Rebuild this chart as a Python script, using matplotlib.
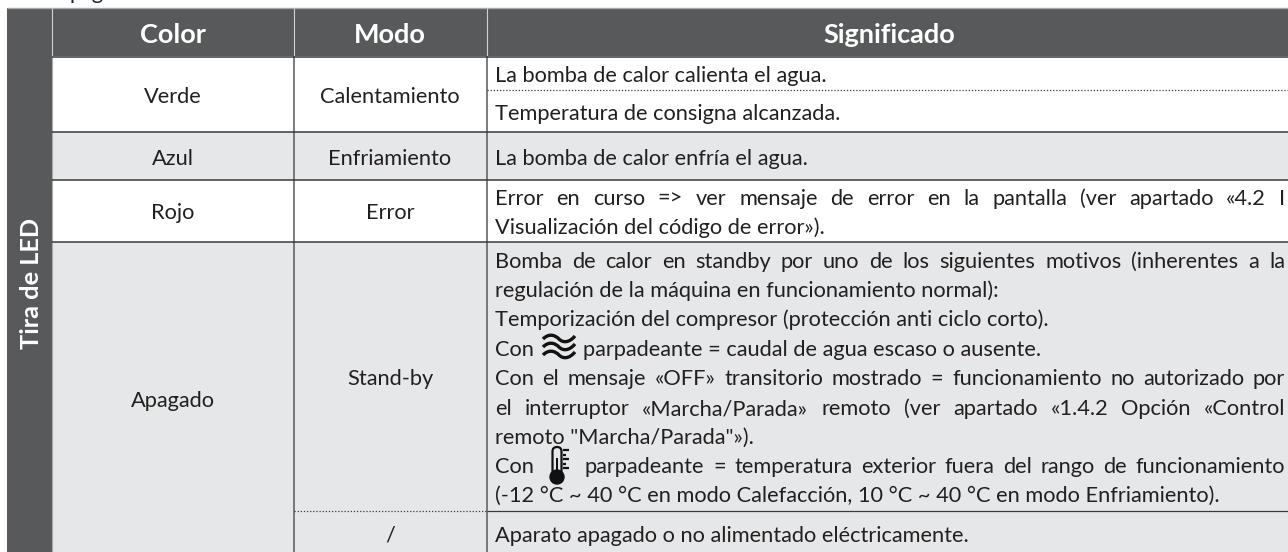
import matplotlib
matplotlib.use('Agg')
import matplotlib.pyplot as plt
from matplotlib.patches import Rectangle, PathPatch, Circle, FancyBboxPatch
from matplotlib.path import Path

plt.rcParams['font.family'] = ['Lato', 'DejaVu Sans']

W, H = 1288, 552
DARK = '#58595b'
GREY = '#e6e7e8'
INK = '#231f20'
BODY_SIZE = 15.7
RIGHT = 1285

side_label = 'Tira de LED'
page_word = 'página'
headers = ['Color', 'Modo', 'Significado']
colors = ['Verde', 'Azul', 'Rojo', 'Apagado']
modes = ['Calentamiento', 'Enfriamiento', 'Error', 'Stand-by', '/']
verde_lines = ['La bomba de calor calienta el agua.', 'Temperatura de consigna alcanzada.']
azul_lines = ['La bomba de calor enfría el agua.']
rojo_lines = ['Error en curso => ver mensaje de error en la pantalla (ver apartado «4.2 I',
              'Visualización del código de error»).']
apagado_lines = ['Bomba de calor en standby por uno de los siguientes motivos (inherentes a la',
                 'regulación de la máquina en funcionamiento normal):',
                 'Temporización del compresor (protección anti ciclo corto).',
                 'parpadeante = caudal de agua escaso o ausente.',
                 'Con el mensaje «OFF» transitorio mostrado = funcionamiento no autorizado por',
                 'el interruptor «Marcha/Parada» remoto (ver apartado «1.4.2 Opción «Control',
                 'remoto "Marcha/Parada"»).',
                 'parpadeante = temperatura exterior fuera del rango de funcionamiento',
                 '(-12 °C ~ 40 °C en modo Calefacción, 10 °C ~ 40 °C en modo Enfriamiento).']
off_line = 'Aparato apagado o no alimentado eléctricamente.'
con_word = 'Con'

fig = plt.figure(figsize=(W / 100, H / 100), dpi=100)
ax = fig.add_axes([0, 0, 1, 1])
ax.set_xlim(0, W)
ax.set_ylim(H, 0)
ax.axis('off')


def rect(x0, y0, x1, y1, color):
    ax.add_patch(Rectangle((x0, y0), x1 - x0, y1 - y0, facecolor=color, edgecolor='none', zorder=1))


def hline(y, x0, x1, color='#3a3a3c', lw=1.1, ls='-'):
    ax.plot([x0, x1], [y, y], color=color, lw=lw, ls=ls, zorder=3, solid_capstyle='butt')


def vline(x, y0, y1, color=DARK, lw=1.1):
    ax.plot([x, x], [y0, y1], color=color, lw=lw, zorder=3, solid_capstyle='butt')


def write(x, y, s, **kw):
    kw.setdefault('fontsize', BODY_SIZE)
    kw.setdefault('color', INK)
    return ax.text(x, y, s, va='baseline', **kw)


def justified(s, x0, x1, y):
    # spread the words so the line ends on x1
    words = s.split(' ')
    r = fig.canvas.get_renderer()
    widths = []
    for w in words:
        t = write(0, 0, w)
        widths.append(t.get_window_extent(r).width)
        t.remove()
    gap = (x1 - x0 - sum(widths)) / (len(words) - 1)
    x = x0
    for w, wd in zip(words, widths):
        write(x, y, w)
        x += wd + gap


# backgrounds
rect(7, 8, 52, H, DARK)
rect(52, 8, W, 56, DARK)
rect(52, 132, W, 180, GREY)
rect(52, 242, W, H, GREY)
hline(7.5, 7, W, color='#a8a9ab', lw=1)

# table lines
vline(52.5, 8, 56, color='#d0d1d3', lw=0.8)
vline(294, 8, 56, color='#d0d1d3', lw=0.8)
vline(487, 8, 56, color='#d0d1d3', lw=0.8)
vline(52.5, 56, H, color='#a8a9ab', lw=0.8)
vline(294, 56, H)
vline(487, 56, H)
for y in [56.5, 132, 180, 242]:
    hline(y, 52, W)
hline(89.5, 487, W, lw=0.9, ls=(0, (1, 1.5)))
hline(510.5, 294, 487, lw=0.9, ls=(0, (1, 1.5)))
hline(510.5, 487, W, lw=0.9)

# cut off line of the page above the table
write(70, -1, page_word)

# header and side label
ax.text(31.5, 283, side_label, rotation=90, color='white', fontsize=18.3, fontweight='bold',
        ha='center', va='center')
for x, s in zip([173, 390, 889], headers):
    ax.text(x, 43, s, color='white', fontsize=19.5, fontweight='bold', ha='center', va='baseline')

# first two columns
for y, s in zip([103, 165, 219, 407], colors):
    write(173, y, s, ha='center')
for y, s in zip([103, 165, 219, 385, 542], modes):
    write(390, y, s, ha='center')

# right column
X = 495
write(X, 82, verde_lines[0])
write(X, 120, verde_lines[1])
write(X, 165, azul_lines[0])
justified(rojo_lines[0], X, RIGHT, 205)
write(X, 234, rojo_lines[1])

ys = [268, 297, 326, 356, 385, 415, 444, 473, 502]
justified(apagado_lines[0], X, RIGHT, ys[0])
write(X, ys[1], apagado_lines[1])
write(X, ys[2], apagado_lines[2])
write(X, ys[3], con_word)
write(583, ys[3], apagado_lines[3])
justified(apagado_lines[4], X, RIGHT, ys[4])
justified(apagado_lines[5], X, RIGHT, ys[5])
write(X, ys[6], apagado_lines[6])
write(X, ys[7], con_word)
justified(apagado_lines[7], 585, RIGHT, ys[7])
write(X, ys[8], apagado_lines[8])
write(X, 542, off_line)

# water flow icon
for y in [339, 347, 355]:
    verts = [(543, y), (549, y - 6), (555, y - 4), (559, y), (563, y + 4), (569, y + 4), (575, y - 3)]
    codes = [Path.MOVETO] + [Path.CURVE4] * 6
    ax.add_patch(PathPatch(Path(verts, codes), fill=False, edgecolor='#111111', lw=2.4, zorder=4))

# thermometer icon
ax.add_patch(FancyBboxPatch((552.5, 447), 9, 28, boxstyle='round,pad=0,rounding_size=4.5',
                            facecolor='none', edgecolor='#111111', lw=1.6, zorder=4))
ax.add_patch(Rectangle((555.8, 458), 2.6, 20, facecolor='#111111', edgecolor='none', zorder=4))
ax.add_patch(Circle((557, 477), 7, facecolor='#111111', edgecolor='#111111', zorder=4))
for y, x1 in [(450, 569), (454.5, 566), (459, 569), (463.5, 566), (468, 569)]:
    ax.plot([563, x1], [y, y], color='#111111', lw=1.6, zorder=4, solid_capstyle='butt')

fig.savefig('out.png', dpi=100)
